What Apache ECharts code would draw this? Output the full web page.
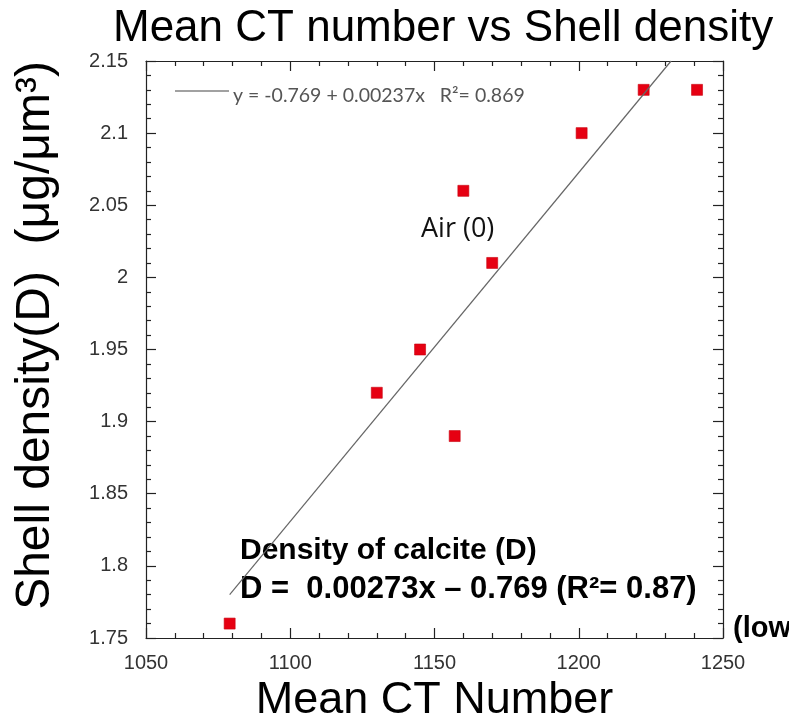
<!DOCTYPE html>
<html>
<head>
<meta charset="utf-8">
<script src="https://cdn.jsdelivr.net/npm/echarts@6/dist/echarts.min.js"></script>
<style>
  html, body { margin: 0; padding: 0; background: #fff; }
  #ctDensityChart { width: 789px; height: 720px; }
</style>
</head>
<body>
<div id="ctDensityChart"></div>
<script>
// values
var ctNumber = [1079, 1130, 1145, 1157, 1160, 1170, 1201, 1222.5, 1241];
var shellDensity = [1.76, 1.92, 1.95, 1.89, 2.06, 2.01, 2.10, 2.13, 2.13];
// fitted line, start and end as drawn
var fitCt = [1079, 1232];
var fitDensity = [1.78, 2.15];

var xMin = 1050, xMax = 1250, xStep = 50;
var yMin = 1.75, yMax = 2.15, yStep = 0.05;

var chartTitle = 'Mean CT number vs Shell density';
var xName = 'Mean CT Number';
var yName = 'Shell density(D)  (\u03bcg/\u03bcm\u00b3)';
var fitText = 'y = -0.769 + 0.00237x   R\u00b2= 0.869';
var airText = 'Air (0)';
var calciteTitle = 'Density of calcite (D)';
var calciteEq = 'D =  0.00273x \u2013 0.769 (R\u00b2= 0.87)';
var lowText = '(low';

var points = ctNumber.map(function (x, i) { return [x, shellDensity[i]] });
var fitPoints = fitCt.map(function (x, i) { return [x, fitDensity[i]] });

var chart = echarts.init(document.getElementById('ctDensityChart'));

// shared axis look: black frame, ticks pointing inward
function frameAxis(extra) {
    var base = {
        type: 'value',
        axisLine: { show: true, onZero: false, lineStyle: { color: '#222', width: 1.2 } },
        axisTick: { show: true, inside: true, length: 10, lineStyle: { color: '#222', width: 1.2 } },
        minorTick: { show: true, splitNumber: 5, length: 5, lineStyle: { color: '#222', width: 1.2 } },
        splitLine: { show: false },
        axisLabel: { show: false }
    };
    return Object.assign(base, extra);
}

chart.setOption({
    animation: false,
    textStyle: { fontFamily: 'Liberation Sans, Arial, sans-serif' },
    title: {
        text: chartTitle,
        left: 108,
        top: 2,
        textStyle: { fontSize: 44, fontWeight: 'normal', color: '#000' }
    },
    grid: { left: 146, right: 66, top: 61, bottom: 82, outerBoundsMode: 'none', containLabel: false },
    xAxis: [
        frameAxis({
            position: 'bottom', min: xMin, max: xMax, interval: xStep,
            axisLabel: { show: true, fontSize: 20, color: '#333', margin: 15, formatter: function (v) { return String(v) } },
            name: xName, nameLocation: 'middle', nameGap: 33,
            nameTextStyle: { fontSize: 45, color: '#000' }
        }),
        frameAxis({ position: 'top', min: xMin, max: xMax, interval: xStep })
    ],
    yAxis: [
        frameAxis({
            position: 'left', min: yMin, max: yMax, interval: yStep,
            axisLabel: { show: true, fontSize: 20, color: '#333', margin: 18 },
            name: yName, nameLocation: 'middle', nameGap: 86,
            nameTextStyle: { fontSize: 48, color: '#000', padding: [0, 0, 0, 28] }
        }),
        frameAxis({ position: 'right', min: yMin, max: yMax, interval: yStep })
    ],
    series: [
        {
            type: 'line',
            data: fitPoints,
            showSymbol: false,
            silent: true,
            lineStyle: { color: '#666', width: 1.2 }
        },
        {
            type: 'scatter',
            data: points,
            symbol: 'rect',
            symbolSize: 11,
            itemStyle: { color: '#e60012', borderColor: '#c8000f', borderWidth: 0.6, opacity: 1 }
        }
    ],
    graphic: [
        {
            type: 'line',
            shape: { x1: 175, y1: 91, x2: 229, y2: 91 },
            style: { stroke: '#444', lineWidth: 1.2 }
        },
        {
            type: 'text', left: 233, top: 86,
            style: { text: fitText, font: '19.5px Lato, sans-serif', fill: '#555' }
        },
        {
            type: 'text', left: 421, top: 216,
            style: { text: airText, font: '27px "Open Sans", sans-serif', fill: '#111' }
        },
        {
            type: 'text', left: 240, top: 536,
            style: { text: calciteTitle, font: 'bold 30px "Liberation Sans", sans-serif', fill: '#000' }
        },
        {
            type: 'text', left: 240, top: 574,
            style: { text: calciteEq, font: 'bold 31px "Liberation Sans", sans-serif', fill: '#000' }
        },
        {
            type: 'text', left: 733, top: 614,
            style: { text: lowText, font: 'bold 29px "Liberation Sans", sans-serif', fill: '#000' }
        }
    ]
});
</script>
</body>
</html>
